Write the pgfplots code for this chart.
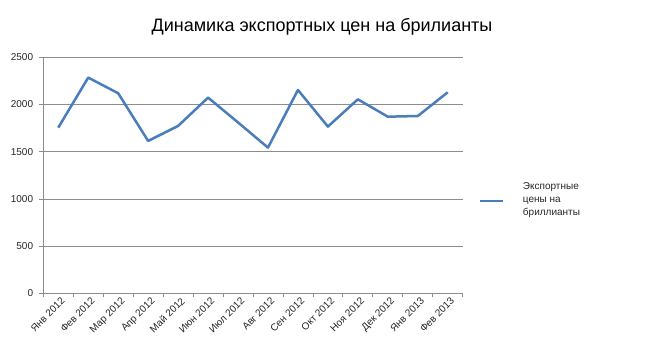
\documentclass[border=0pt]{standalone}
\usepackage{pgfplots}
\pgfplotsset{compat=1.18}
\usepackage{fontspec}
\setmainfont{Liberation Sans}
\definecolor{serc}{HTML}{4A7EBB}
\definecolor{gridc}{HTML}{8C8C8C}
\begin{document}
\begin{tikzpicture}[x=1pt,y=1pt]
\useasboundingbox (0pt,0pt) rectangle (650pt,362pt);
\begin{axis}[name=ax,
  at={(43.3pt,68.7pt)}, anchor=south west,
  scale only axis, width=419.4pt, height=236pt,
  xmin=-0.5, xmax=13.5, ymin=0, ymax=2500,
  ytick={0,500,...,2500},
  xtick={0,...,13},
  xticklabels={Янв 2012,Фев 2012,Мар 2012,Апр 2012,Май 2012,Июн 2012,Июл 2012,Авг 2012,Сен 2012,Окт 2012,Ноя 2012,Дек 2012,Янв 2013,Фев 2013},
  minor xtick={-0.5,0.5,...,13.5},
  major x tick style={draw=none},
  tick align=outside,
  major tick length=4pt, minor tick length=4pt,
  axis x line*=bottom, axis y line*=left,
  ymajorgrids, grid style={gridc, line width=0.8pt},
  axis line style={gridc, line width=0.8pt},
  every tick/.style={gridc, line width=0.8pt},
  tick label style={font=\fontsize{10}{12}\selectfont, text=black!85},
  /pgf/number format/assume math mode=true,
  /pgf/number format/1000 sep={},
  xticklabel style={rotate=45, anchor=north east, inner sep=1pt, xshift=3pt},
  yticklabel style={inner sep=2pt, xshift=-4pt},
  legend style={at={(1.03,0.429)}, anchor=west, draw=none, fill=none,
    font=\fontsize{10}{13}\selectfont, text=black!85,
    /tikz/every even column/.append style={column sep=0pt}},
  legend cell align=left,
  legend image code/.code={\draw[#1] (0pt,-8.7pt) -- (23pt,-8.7pt);},
]
\addplot[serc, line width=2.5pt, line join=round] coordinates {
 (0,1755) (1,2285) (2,2119) (3,1614) (4,1773) (5,2073) (6,1810)
 (7,1543) (8,2154) (9,1766) (10,2055) (11,1871) (12,1878) (13,2129)};
\addlegendentry{\hspace{17pt}\begin{tabular}{@{}l@{}}Экспортные\\цены на\\бриллианты\end{tabular}}
\end{axis}
\node[font=\fontsize{18}{21}\selectfont] at (322pt,335pt) {Динамика экспортных цен на брилианты};
\end{tikzpicture}
\end{document}
